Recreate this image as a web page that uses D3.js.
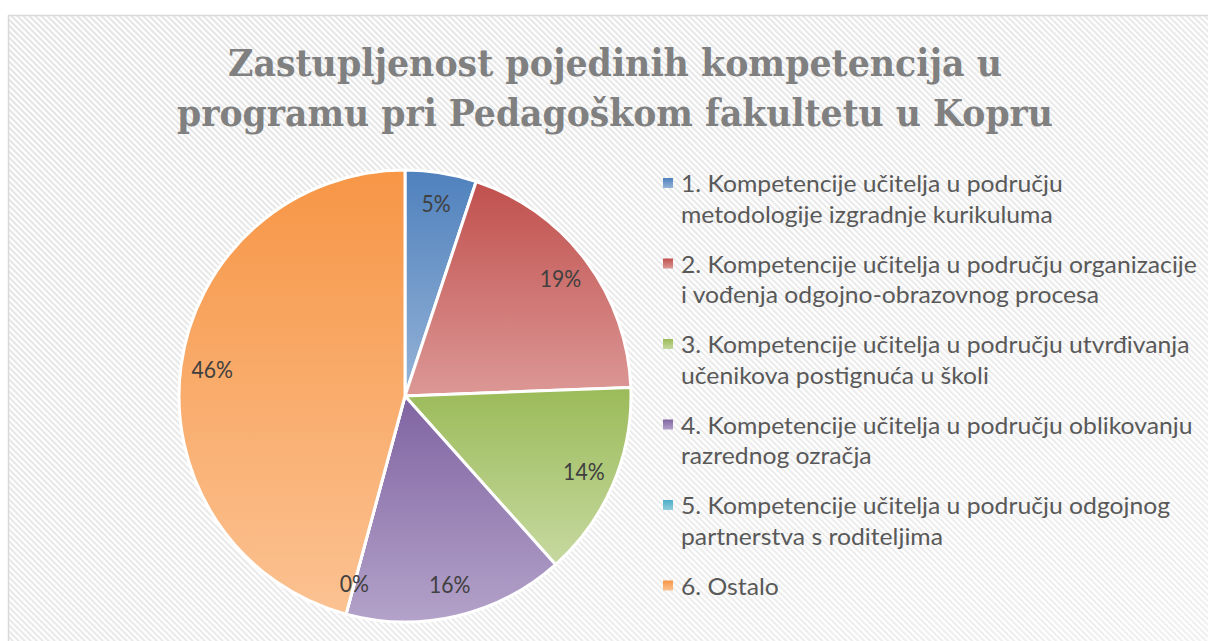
<!DOCTYPE html>
<html>
<head>
<meta charset="utf-8">
<script src="https://cdn.jsdelivr.net/npm/d3@7"></script>
<style>
  body { margin: 0; background: #fff; }
  svg { display: block; }
</style>
</head>
<body>
<script>
// podaci
const titleLines = ["Zastupljenost pojedinih kompetencija u", "programu pri Pedagoškom fakultetu u Kopru"];
const categories = [
  ["1. Kompetencije učitelja u području", "metodologije izgradnje kurikuluma"],
  ["2. Kompetencije učitelja u području organizacije", "i vođenja odgojno-obrazovnog procesa"],
  ["3. Kompetencije učitelja u području utvrđivanja", "učenikova postignuća u školi"],
  ["4. Kompetencije učitelja u području oblikovanju", "razrednog ozračja"],
  ["5. Kompetencije učitelja u području odgojnog", "partnerstva s roditeljima"],
  ["6. Ostalo"]
];
const values = [5.1, 19.3, 14.0, 15.8, 0, 45.8];
const colorsTop = ["#4f81bd", "#c0504d", "#9bbb59", "#8064a2", "#4bacc6", "#f79646"];
const colorsBottom = ["#95b3d7", "#dc9896", "#c6d9a0", "#b3a2c9", "#92cddc", "#fbc292"];

const W = 1208, H = 641;
const svg = d3.select("body").append("svg").attr("width", W).attr("height", H);
const defs = svg.append("defs");

// šrafura u pozadini
const pat = defs.append("pattern")
  .attr("id", "hatch")
  .attr("patternUnits", "userSpaceOnUse")
  .attr("width", 4.24).attr("height", 10)
  .attr("patternTransform", "rotate(-45)");
pat.append("rect").attr("width", 4.24).attr("height", 10).attr("fill", "#fff");
pat.append("rect").attr("width", 2).attr("height", 10).attr("fill", "#e3e3e3");

const fade = defs.append("linearGradient").attr("id", "fade")
  .attr("x1", 0).attr("y1", 0).attr("x2", 1).attr("y2", 1);
fade.append("stop").attr("offset", 0).attr("stop-color", "#fff").attr("stop-opacity", 0);
fade.append("stop").attr("offset", 1).attr("stop-color", "#fff").attr("stop-opacity", 0.45);

svg.append("rect")
  .attr("x", 8.5).attr("y", 15.5).attr("width", W + 20).attr("height", H + 20)
  .attr("fill", "url(#hatch)");
svg.append("rect")
  .attr("x", 8.5).attr("y", 15.5).attr("width", W + 20).attr("height", H + 20)
  .attr("fill", "url(#fade)")
  .attr("stroke", "#d9d9d9").attr("stroke-width", 1.5);

// gradijenti za isječke
colorsTop.forEach((c, i) => {
  const g = defs.append("linearGradient").attr("id", "grad" + i)
    .attr("x1", 0).attr("y1", 0).attr("x2", 0).attr("y2", 1);
  g.append("stop").attr("offset", 0).attr("stop-color", c);
  g.append("stop").attr("offset", 1).attr("stop-color", colorsBottom[i]);
});

// naslov
const title = svg.append("g");
const titleWidths = [774, 876];
titleLines.forEach((t, i) => {
  title.append("text")
    .attr("x", 615).attr("y", 76 + i * 50)
    .attr("text-anchor", "middle")
    .attr("font-family", "'DejaVu Serif Condensed', 'DejaVu Serif', serif")
    .attr("font-stretch", "condensed")
    .attr("font-weight", "bold")
    .attr("font-size", 38)
    .attr("fill", "#808080")
    .attr("textLength", titleWidths[i])
    .attr("lengthAdjust", "spacingAndGlyphs")
    .text(t);
});

// pita
const cx = 405, cy = 396, r = 226;
const pie = d3.pie().sort(null).value(d => d);
const arcs = pie(values);
const arc = d3.arc().innerRadius(0).outerRadius(r);
const labelArc = d3.arc().innerRadius(r * 0.86).outerRadius(r * 0.86);
const total = d3.sum(values);
const fmt = d3.format(".0%");

const g = svg.append("g").attr("transform", `translate(${cx},${cy})`);
g.selectAll("path")
  .data(arcs)
  .join("path")
  .attr("d", arc)
  .attr("fill", (d, i) => `url(#grad${i})`)
  .attr("stroke", "#fff")
  .attr("stroke-width", 3)
  .attr("stroke-linejoin", "round");

g.selectAll("text.lbl")
  .data(arcs)
  .join("text")
  .attr("class", "lbl")
  .attr("transform", d => `translate(${labelArc.centroid(d)}) scale(0.92,1)`)
  .attr("text-anchor", "middle")
  .attr("dy", "0.35em")
  .attr("font-family", "Lato, sans-serif")
  .attr("font-size", 23)
  .attr("fill", "#404040")
  .text(d => fmt(d.data / total));

// legenda
const legend = svg.append("g").attr("transform", "translate(663,192)");
const items = legend.selectAll("g")
  .data(categories)
  .join("g")
  .attr("transform", (d, i) => `translate(0,${i * 80.5})`);
items.append("rect")
  .attr("x", 0).attr("y", -14).attr("width", 10).attr("height", 10)
  .attr("fill", (d, i) => `url(#grad${i})`);
const txt = items.append("text")
  .attr("font-family", "Lato, sans-serif")
  .attr("font-size", 24)
  .attr("fill", "#595959");
txt.selectAll("tspan")
  .data(d => d)
  .join("tspan")
  .attr("x", 0)
  .attr("y", (d, i) => i * 31)
  .text(d => d);

// suzi tekst da najduža linija bude široka kao u originalu
let maxW = 0;
txt.selectAll("tspan").each(function() { maxW = Math.max(maxW, this.getComputedTextLength()); });
const sx = maxW > 0 ? 516 / maxW : 1;
txt.attr("transform", `translate(18,0) scale(${sx},1)`);
</script>
</body>
</html>
